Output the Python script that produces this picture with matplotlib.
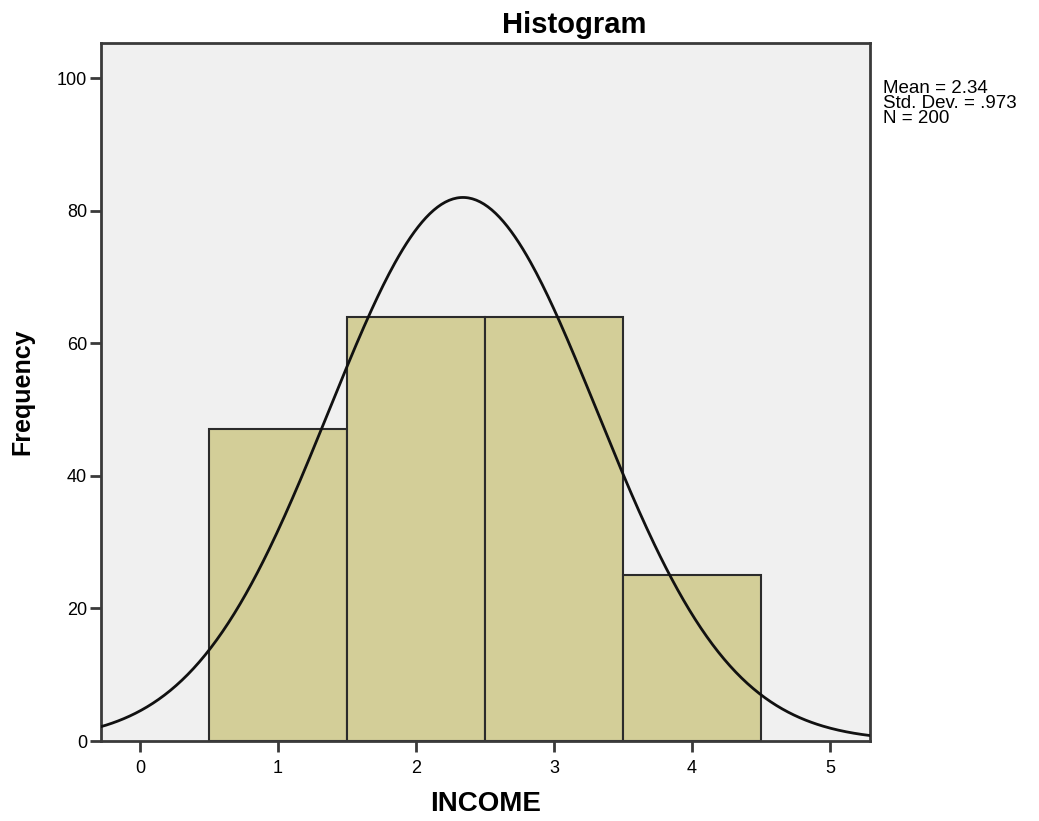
import numpy as np
import matplotlib.pyplot as plt

plt.rcParams['font.family'] = ['Liberation Sans', 'DejaVu Sans']

# histogram data (bin centres and counts)
income = [1, 2, 3, 4]
frequency = [47, 64, 64, 25]

# summary statistics printed by SPSS
mean = 2.34
std_dev = 0.973
n_total = 200
bin_width = 1.0

fig = plt.figure(figsize=(10.39, 8.21), dpi=100)
ax = fig.add_axes([0.0972, 0.0974, 0.7401, 0.8502])
ax.set_facecolor('#f0f0f0')

ax.bar(income, frequency, width=bin_width, color='#d3ce98',
       edgecolor='#2b2b2b', linewidth=1.5, zorder=2)

# normal curve scaled to counts
xs = np.linspace(-0.3, 5.3, 400)
ys = n_total * bin_width / (std_dev * np.sqrt(2 * np.pi)) * np.exp(-0.5 * ((xs - mean) / std_dev) ** 2)
ax.plot(xs, ys, color='#111111', linewidth=2, zorder=3)

ax.set_xlim(-0.283, 5.29)
ax.set_ylim(0, 105.3)
ax.set_xticks([0, 1, 2, 3, 4, 5])
ax.set_yticks([0, 20, 40, 60, 80, 100])

for sp in ax.spines.values():
    sp.set_linewidth(2)
    sp.set_color('#3a3a3a')

ax.tick_params(axis='x', length=8, width=2, color='#3a3a3a', pad=6, labelsize=13)
ax.tick_params(axis='y', length=8, width=2, color='#3a3a3a', pad=2, labelsize=13)

ax.set_title('Histogram', fontsize=21, fontweight='bold', pad=7, x=0.615)
ax.set_xlabel('INCOME', fontsize=20, fontweight='bold', labelpad=10)
ax.set_ylabel('Frequency', fontsize=18, fontweight='bold', labelpad=16)

fig.text(0.85, 0.903, 'Mean = %.2f\nStd. Dev. = .973\nN = %d' % (mean, n_total),
         fontsize=13.5, va='top', ha='left', linespacing=0.85)

plt.savefig('out.png')
